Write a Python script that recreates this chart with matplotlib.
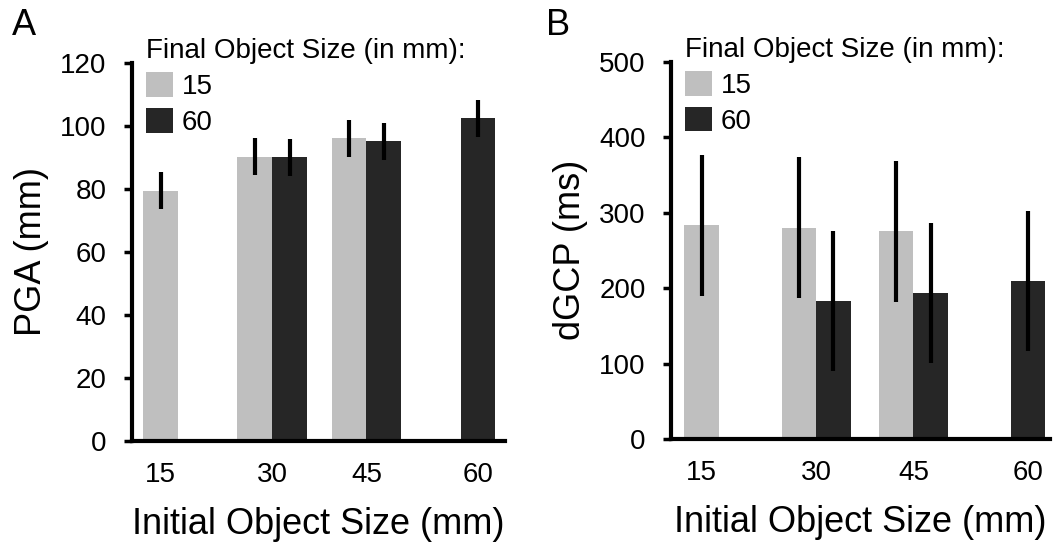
import matplotlib
matplotlib.use('Agg')
import matplotlib.pyplot as plt
from matplotlib.patches import Patch
import numpy as np

plt.rcParams['font.family'] = ['Liberation Sans', 'DejaVu Sans']

initial_sizes = ['15', '30', '45', '60']
final_labels = ['15', '60']

# panel A: peak grip aperture (mm)
pga_15 = [79.4, 90.3, 96.1, np.nan]
pga_60 = [np.nan, 90.1, 95.2, 102.4]
pga_err_15 = [5.9, 5.9, 5.9, np.nan]
pga_err_60 = [np.nan, 5.9, 5.9, 5.9]

# panel B: dGCP (ms)
dgcp_15 = [283, 280, 275, np.nan]
dgcp_60 = [np.nan, 182.5, 193.6, 209]
dgcp_err_15 = [93, 93, 93, np.nan]
dgcp_err_60 = [np.nan, 93, 93, 93]

light = '#bfbfbf'
dark = '#262626'
tick_fs = 20
label_fs = 26


def draw_panel(ax, v15, v60, e15, e60, width, xlim, ylim, yticks, ylabel):
    x = np.arange(len(initial_sizes))
    v15 = np.array(v15, dtype=float)
    v60 = np.array(v60, dtype=float)
    e15 = np.array(e15, dtype=float)
    e60 = np.array(e60, dtype=float)
    m15 = ~np.isnan(v15)
    m60 = ~np.isnan(v60)
    ax.bar(x[m15] - width / 2, v15[m15], width, color=light, zorder=2)
    ax.bar(x[m60] + width / 2, v60[m60], width, color=dark, zorder=2)
    ax.errorbar(x[m15] - width / 2, v15[m15], yerr=e15[m15], fmt='none',
                ecolor='black', elinewidth=3, capsize=0, zorder=3)
    ax.errorbar(x[m60] + width / 2, v60[m60], yerr=e60[m60], fmt='none',
                ecolor='black', elinewidth=3, capsize=0, zorder=3)

    # tick label under the middle of whichever bars exist
    tick_pos = []
    for i in range(len(x)):
        c = []
        if m15[i]:
            c.append(x[i] - width / 2)
        if m60[i]:
            c.append(x[i] + width / 2)
        tick_pos.append(np.mean(c))
    ax.set_xticks(tick_pos)
    ax.set_xticklabels(initial_sizes)
    ax.set_xlim(*xlim)
    ax.set_ylim(*ylim)
    ax.set_yticks(yticks)

    for s in ['top', 'right']:
        ax.spines[s].set_visible(False)
    for s in ['left', 'bottom']:
        ax.spines[s].set_linewidth(3)
    ax.tick_params(axis='x', length=0, pad=15, labelsize=tick_fs)
    ax.tick_params(axis='y', length=6, width=2.5, pad=12, labelsize=tick_fs)
    ax.set_xlabel('Initial Object Size (mm)', fontsize=label_fs, labelpad=14)
    ax.set_ylabel(ylabel, fontsize=label_fs, labelpad=8)

    handles = [Patch(facecolor=light), Patch(facecolor=dark)]
    ax.legend(handles, final_labels, title='Final Object Size (in mm):',
              loc='upper left', bbox_to_anchor=(0.037, 1.065),
              frameon=False, fontsize=tick_fs, title_fontsize=tick_fs,
              borderpad=0, borderaxespad=0, handlelength=1.0,
              handleheight=1.0, handletextpad=0.3, labelspacing=0.28,
              alignment='left')


fig = plt.figure(figsize=(10.54, 5.43), dpi=100)
ax1 = fig.add_axes([0.125, 0.188, 0.354, 0.696])
ax2 = fig.add_axes([0.6363, 0.1915, 0.36, 0.695])

draw_panel(ax1, pga_15, pga_60, pga_err_15, pga_err_60, 0.37,
           (-0.491, 3.47), (0, 120), range(0, 121, 20), 'PGA (mm)')
draw_panel(ax2, dgcp_15, dgcp_60, dgcp_err_15, dgcp_err_60, 0.355,
           (-0.497, 3.405), (0, 500), range(0, 501, 100), 'dGCP (ms)')

fig.text(0.011, 0.935, 'A', fontsize=26)
fig.text(0.518, 0.935, 'B', fontsize=26)

fig.savefig('out.png', dpi=100)
